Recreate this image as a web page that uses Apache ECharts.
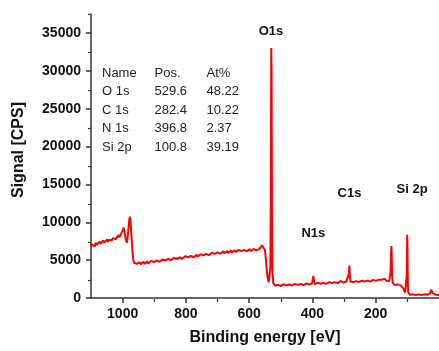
<!DOCTYPE html>
<html>
<head>
<meta charset="utf-8">
<script src="https://cdn.jsdelivr.net/npm/echarts@6/dist/echarts.min.js"></script>
<style>html,body{margin:0;padding:0;background:#fff;}#c{width:439px;height:351px;}</style>
</head>
<body>
<div id="c"></div>
<script>
// XPS survey spectrum: [binding energy (eV), signal (CPS)]
const spectrum = [
[1100,6700],[1097,7100],[1094,6850],[1091,7050],[1088,6800],[1085,7300],[1082,7000],[1079,7200],[1076,7050],[1073,7450],
[1070,7150],[1067,7400],[1064,7200],[1061,7600],[1058,7300],[1055,7550],[1052,7400],[1049,7750],[1046,7400],[1043,7700],
[1040,7550],[1037,7950],[1034,7600],[1031,7900],[1028,7750],[1025,8100],[1022,7800],[1019,8050],[1016,7950],[1013,8300],
[1010,8000],[1007,8300],[1004,8200],[1002,8550],[999,9000],[997,9300],[995,8900],[992,8200],[989,7600],[987,7300],
[985,7700],[982,9000],[979,10300],[977,10750],[975,10200],[973,8800],[970,6800],[967,5200],[964,4650],[961,4450],
[958,4700],[955,4500],[952,4600],[949,4400],[946,4750],[943,4450],[940,4600],[937,4550],[934,4800],[931,4500],
[928,4700],[925,4600],[922,4850],[919,4550],[916,4800],[913,4650],[910,4900],[907,4650],[904,4850],[901,4750],
[898,4980],[895,4700],[892,4950],[889,4800],[886,5050],[883,4780],[880,5000],[877,4880],[874,5100],[871,4850],
[868,5050],[865,4950],[862,5200],[859,4920],[856,5150],[853,5030],[850,5250],[847,4980],[844,5200],[841,5100],
[838,5300],[835,5050],[832,5280],[829,5150],[826,5400],[823,5120],[820,5350],[817,5250],[814,5450],[811,5180],
[808,5420],[805,5300],[802,5520],[799,5260],[796,5480],[793,5380],[790,5600],[787,5330],[784,5550],[781,5430],
[778,5650],[775,5380],[772,5620],[769,5500],[766,5720],[763,5450],[760,5680],[757,5560],[754,5780],[751,5520],
[748,5750],[745,5620],[742,5850],[739,5580],[736,5820],[733,5700],[730,5920],[727,5650],[724,5880],[721,5760],
[718,5980],[715,5720],[712,5950],[709,5820],[706,6050],[703,5780],[700,6020],[697,5880],[694,6100],[691,5850],
[688,6080],[685,5950],[682,6180],[679,5900],[676,6120],[673,6000],[670,6220],[667,5950],[664,6180],[661,6050],
[658,6270],[655,6000],[652,6230],[649,6100],[646,6320],[643,6050],[640,6280],[637,6150],[634,6360],[631,6100],
[628,6300],[625,6190],[622,6400],[619,6130],[616,6350],[613,6220],[610,6430],[607,6160],[604,6380],[601,6250],
[598,6450],[595,6180],[592,6400],[589,6280],[586,6480],[583,6220],[580,6420],[577,6300],[574,6500],[571,6250],
[568,6480],[565,6450],[562,6650],[559,6950],[556,7200],[553,7000],[550,6300],[547,5000],[544,3500],[541,2500],
[538,2100],[535,2300],[533,4000],[531.5,15000],[530.3,33000],[529.3,30000],[528,12000],[526.5,3500],[524,2000],[521,1750],
[518,1620],[515,1780],[512,1600],[509,1730],[506,1640],[503,1800],[500,1590],[497,1740],[494,1650],[491,1810],
[488,1610],[485,1760],[482,1670],[479,1830],[476,1630],[473,1780],[470,1690],[467,1850],[464,1650],[461,1800],
[458,1710],[455,1870],[452,1670],[449,1820],[446,1730],[443,1890],[440,1690],[437,1840],[434,1750],[431,1910],
[428,1710],[425,1860],[422,1770],[419,1930],[416,1730],[413,1880],[410,1790],[407,1950],[404,1780],[401,1950],
[399,2500],[397,2900],[395,2300],[392,1820],[389,1960],[386,1830],[383,2010],[380,1810],[377,1980],[374,1880],
[371,2040],[368,1840],[365,2000],[362,1910],[359,2070],[356,1870],[353,2030],[350,1940],[347,2100],[344,1900],
[341,2060],[338,1970],[335,2130],[332,1930],[329,2090],[326,2000],[323,2160],[320,1960],[317,2120],[314,2030],
[311,2250],[308,2050],[305,2180],[302,2040],[299,2200],[296,2010],[293,2170],[290,2080],[287,2200],[285,3200],
[283.5,4300],[282,3000],[280,2200],[277,2050],[274,2210],[271,2090],[268,2250],[265,2060],[262,2230],[259,2120],
[256,2280],[253,2090],[250,2250],[247,2150],[244,2300],[241,2110],[238,2270],[235,2180],[232,2330],[229,2140],
[226,2300],[223,2200],[220,2350],[217,2160],[214,2320],[211,2230],[208,2380],[205,2190],[202,2340],[199,2260],
[196,2400],[193,2240],[190,2420],[187,2320],[184,2450],[181,2400],[178,2600],[175,2500],[172,2550],[169,2300],
[166,2250],[163,2150],[160,2300],[157,2250],[155,2400],[153,3500],[151.5,6000],[150.5,6850],[149.5,5500],[148,2800],
[146,2000],[143,1850],[140,1700],[137,1700],[134,1650],[131,1800],[128,1750],[125,1850],[122,1700],[119,1550],
[116,1480],[113,1300],[110,1000],[107,700],[104.5,650],[103,750],[102,3000],[101,7000],[100.5,8350],[99.5,6000],
[98.5,2000],[97,700],[94,550],[91,420],[88,500],[85,400],[82,480],[79,410],[76,490],[73,400],
[70,470],[67,390],[64,480],[61,400],[58,460],[55,390],[52,470],[49,400],[46,480],[43,420],
[40,490],[37,430],[34,520],[31,480],[28,600],[26,800],[24.5,1100],[23.5,1300],[22,900],[20,650],
[17,500],[14,450],[10,430],[5,400],[0,400]
];

// Peak annotations (text and anchor in data coordinates)
const peakNames = ['O1s', 'N1s', 'C1s', 'Si 2p'];
const peakLabelEnergy = [531, 397, 283, 85];
const peakLabelSignal = [35200, 8550, 13850, 14400];

// Quantification table
const tableNames = ['O 1s', 'C 1s', 'N 1s', 'Si 2p'];
const tablePositions = ['529.6', '282.4', '396.8', '100.8'];
const tableAtPercent = ['48.22', '10.22', '2.37', '39.19'];

// Tick values
const xMajorTicks = [200, 400, 600, 800, 1000];
const xMinorTicks = [100, 300, 500, 700, 900];
const yMajorTicks = [0, 5000, 10000, 15000, 20000, 25000, 30000, 35000];
const yMinorTicks = [2500, 7500, 12500, 17500, 22500, 27500, 32500, 37500];

const chart = echarts.init(document.getElementById('c'), null, {renderer: 'canvas'});
const axisColor = '#333';
const fam = '"Liberation Sans", Arial, sans-serif';
const labelFont = {fontFamily: fam, fontWeight: 'bold', fontSize: 14, color: '#111'};

const rowH = 18.5;
const tableGraphics = [];
function col(x, header, rows) {
  tableGraphics.push({type: 'text', left: x, top: 64, z: 10, style: {text: [header].concat(rows).join('\n'), lineHeight: rowH, font: '13px ' + fam, fill: '#222'}});
}
col(102, 'Name', tableNames);
col(154.5, 'Pos.', tablePositions);
col(206.5, 'At%', tableAtPercent);

const gridBox = {left: 91, right: -5, top: 14, bottom: 52};

chart.setOption({
  animation: false,
  backgroundColor: '#fff',
  grid: [Object.assign({}, gridBox), Object.assign({}, gridBox)],
  xAxis: [{
    gridIndex: 0, type: 'value', inverse: true, min: 0, max: 1100, position: 'bottom',
    name: 'Binding energy [eV]', nameLocation: 'middle', nameGap: 32,
    nameTextStyle: {fontFamily: fam, fontWeight: 'bold', fontSize: 16, color: '#111'},
    axisLine: {onZero: false, lineStyle: {color: axisColor, width: 1.5}},
    axisTick: {show: true, inside: false, length: 5, customValues: xMajorTicks, lineStyle: {color: axisColor, width: 1.5}},
    axisLabel: Object.assign({margin: 9, customValues: xMajorTicks, formatter: v => String(v)}, labelFont),
    splitLine: {show: false}
  }, {
    gridIndex: 1, type: 'value', inverse: true, min: 0, max: 1100, position: 'bottom',
    axisLine: {show: false, onZero: false},
    axisTick: {show: true, inside: false, length: 3, customValues: xMinorTicks, lineStyle: {color: axisColor, width: 1.2}},
    axisLabel: {show: false},
    splitLine: {show: false}
  }],
  yAxis: [{
    gridIndex: 0, type: 'value', min: 0, max: 37500, position: 'left',
    name: 'Signal [CPS]', nameLocation: 'middle', nameGap: 64, nameRotate: 90,
    nameTextStyle: {fontFamily: fam, fontWeight: 'bold', fontSize: 16, color: '#111', padding: [0, 0, 0, 12]},
    axisLine: {show: true, onZero: false, lineStyle: {color: axisColor, width: 1.5}},
    axisTick: {show: true, inside: false, length: 5, customValues: yMajorTicks, lineStyle: {color: axisColor, width: 1.5}},
    axisLabel: Object.assign({margin: 10, customValues: yMajorTicks, formatter: v => String(v)}, labelFont),
    splitLine: {show: false}
  }, {
    gridIndex: 1, type: 'value', min: 0, max: 37500, position: 'left',
    axisLine: {show: false, onZero: false},
    axisTick: {show: true, inside: false, length: 3, customValues: yMinorTicks, lineStyle: {color: axisColor, width: 1.2}},
    axisLabel: {show: false},
    splitLine: {show: false}
  }],
  series: [{
    type: 'line', xAxisIndex: 0, yAxisIndex: 0, data: spectrum,
    showSymbol: false, symbol: 'none',
    lineStyle: {color: '#ff0000', width: 2},
    z: 3
  }, {
    type: 'scatter', xAxisIndex: 0, yAxisIndex: 0,
    symbolSize: 0,
    itemStyle: {opacity: 1},
    data: peakNames.map((n, i) => ({name: n, value: [peakLabelEnergy[i], peakLabelSignal[i]]})),
    label: {show: true, position: 'inside', formatter: p => p.name, fontFamily: fam, fontWeight: 'bold', fontSize: 13, color: '#111'},
    silent: true, z: 4
  }],
  graphic: tableGraphics
});
</script>
</body>
</html>
